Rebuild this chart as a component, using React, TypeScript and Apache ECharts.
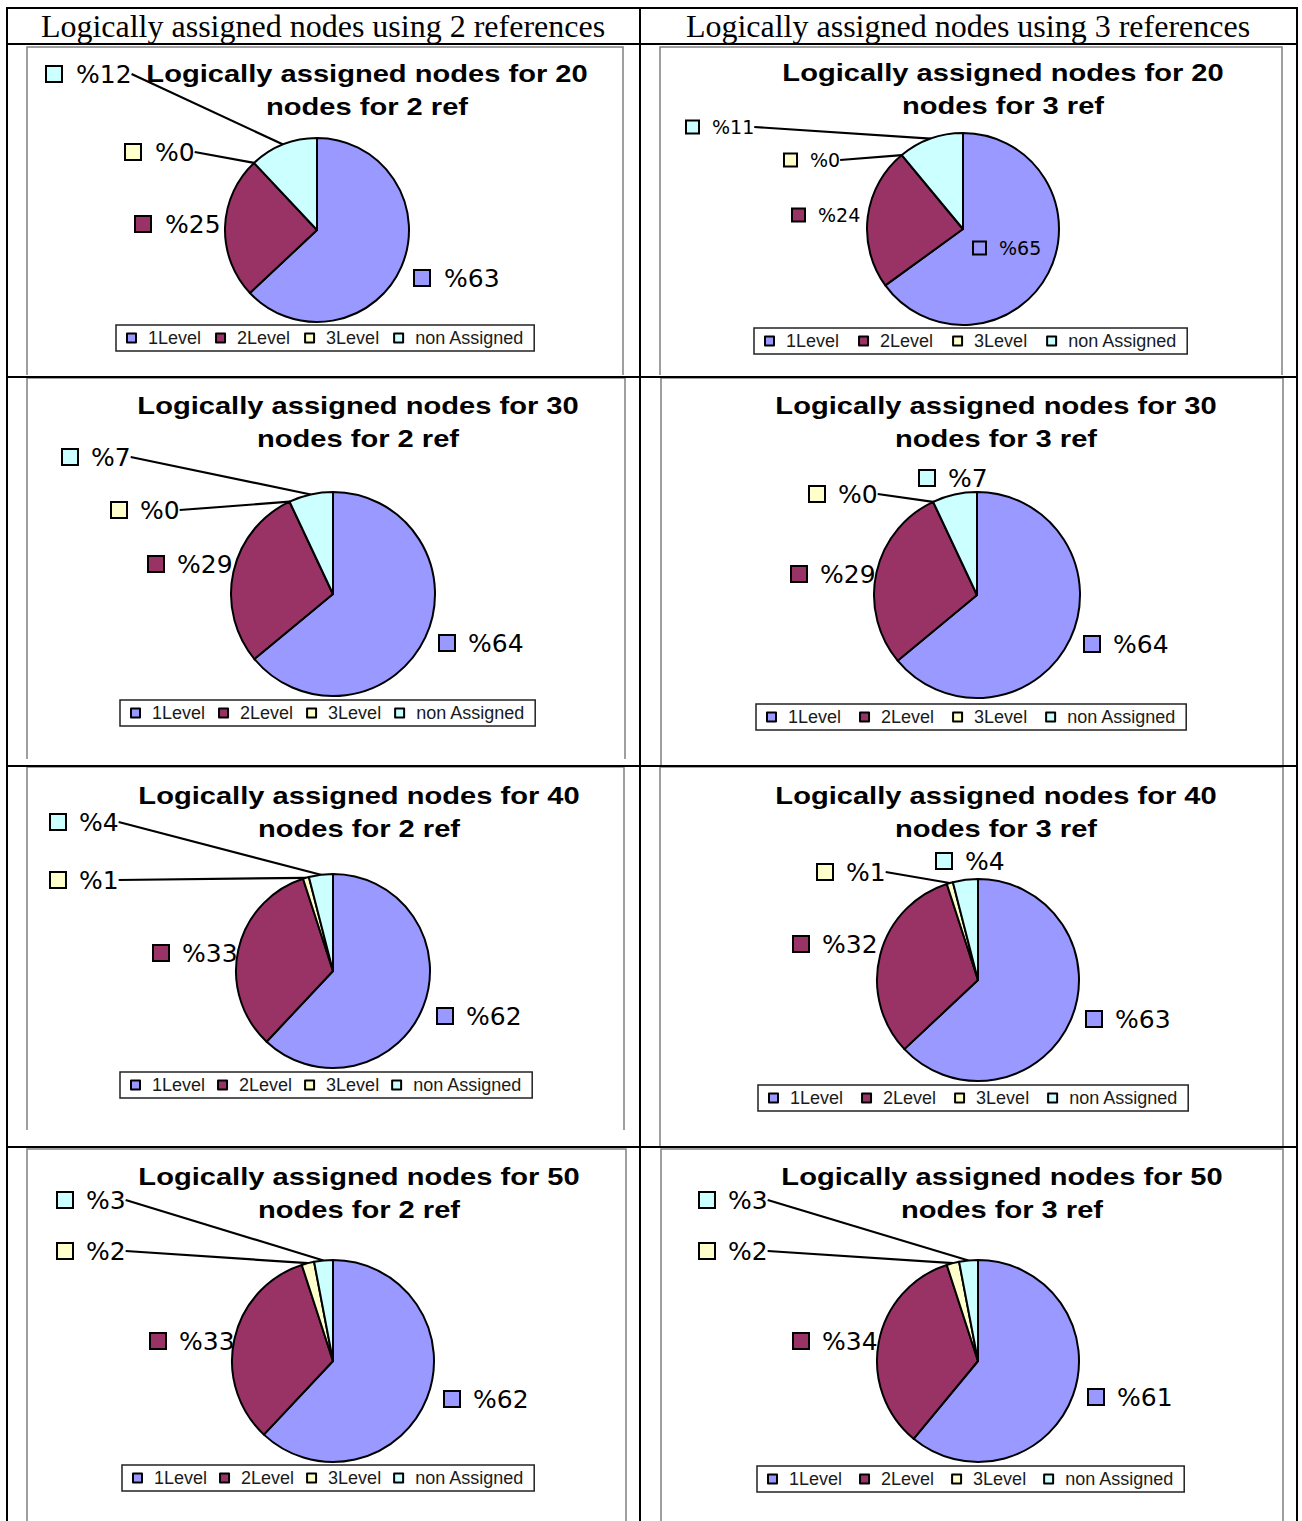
import { useEffect, useRef } from 'react';
import * as echarts from 'echarts';

// Level names shared by every pie and legend
const categories = ['1Level', '2Level', '3Level', 'non Assigned'];
const sliceColors = ['#9999FF', '#993366', '#FFFFCC', '#CCFFFF'];
const columnHeaders = [
  'Logically assigned nodes using 2 references',
  'Logically assigned nodes using 3 references',
];

// Share of nodes (%) per level, one array per network size / reference count
const nodes20ref2 = [63, 25, 0, 12];
const nodes20ref3 = [65, 24, 0, 11];
const nodes30ref2 = [64, 29, 0, 7];
const nodes30ref3 = [64, 29, 0, 7];
const nodes40ref2 = [62, 33, 1, 4];
const nodes40ref3 = [63, 32, 1, 4];
const nodes50ref2 = [62, 33, 2, 3];
const nodes50ref3 = [61, 34, 2, 3];

type Panel = {
  nodes: number;
  refs: number;
  values: number[];
  center: [number, number];
  radius: number;
  titleX: number;
  titleY: number;
  labelAt: [number, number][];
  leaders: boolean[];
  fontSize: number;
  keySize: number;
  keyGap: number;
  legendLeft: number;
  legendTop: number;
  legendGap: number;
};

const panels: Panel[] = [
  {
    nodes: 20, refs: 2, values: nodes20ref2, center: [317, 230], radius: 92,
    titleX: 367, titleY: 74,
    labelAt: [[415, 278], [136, 224], [126, 152], [47, 74]],
    leaders: [false, false, true, true],
    fontSize: 25, keySize: 14, keyGap: 15,
    legendLeft: 116, legendTop: 325, legendGap: 14,
  },
  {
    nodes: 20, refs: 3, values: nodes20ref3, center: [963, 229], radius: 96,
    titleX: 1003, titleY: 73,
    labelAt: [[974, 248], [793, 215], [785, 160], [687, 127]],
    leaders: [false, false, true, true],
    fontSize: 19, keySize: 11, keyGap: 14,
    legendLeft: 754, legendTop: 328, legendGap: 19,
  },
  {
    nodes: 30, refs: 2, values: nodes30ref2, center: [333, 594], radius: 102,
    titleX: 358, titleY: 406,
    labelAt: [[440, 643], [149, 564], [112, 510], [63, 457]],
    leaders: [false, false, true, true],
    fontSize: 25, keySize: 14, keyGap: 14,
    legendLeft: 120, legendTop: 700, legendGap: 13,
  },
  {
    nodes: 30, refs: 3, values: nodes30ref3, center: [977, 595], radius: 103,
    titleX: 996, titleY: 406,
    labelAt: [[1085, 644], [792, 574], [810, 494], [920, 478]],
    leaders: [false, false, true, false],
    fontSize: 25, keySize: 14, keyGap: 14,
    legendLeft: 756, legendTop: 704, legendGap: 18,
  },
  {
    nodes: 40, refs: 2, values: nodes40ref2, center: [333, 971], radius: 97,
    titleX: 359, titleY: 796,
    labelAt: [[438, 1016], [154, 953], [51, 880], [51, 822]],
    leaders: [false, false, true, true],
    fontSize: 25, keySize: 14, keyGap: 14,
    legendLeft: 120, legendTop: 1072, legendGap: 12,
  },
  {
    nodes: 40, refs: 3, values: nodes40ref3, center: [978, 980], radius: 101,
    titleX: 996, titleY: 796,
    labelAt: [[1087, 1019], [794, 944], [818, 872], [937, 861]],
    leaders: [false, false, true, false],
    fontSize: 25, keySize: 14, keyGap: 14,
    legendLeft: 758, legendTop: 1085, legendGap: 18,
  },
  {
    nodes: 50, refs: 2, values: nodes50ref2, center: [333, 1361], radius: 101,
    titleX: 359, titleY: 1177,
    labelAt: [[445, 1399], [151, 1341], [58, 1251], [58, 1200]],
    leaders: [false, false, true, true],
    fontSize: 25, keySize: 14, keyGap: 14,
    legendLeft: 122, legendTop: 1465, legendGap: 12,
  },
  {
    nodes: 50, refs: 3, values: nodes50ref3, center: [978, 1361], radius: 101,
    titleX: 1002, titleY: 1177,
    labelAt: [[1089, 1397], [794, 1341], [700, 1251], [700, 1200]],
    leaders: [false, false, true, true],
    fontSize: 25, keySize: 14, keyGap: 14,
    legendLeft: 757, legendTop: 1466, legendGap: 17,
  },
];

// Table grid: [x1, y1, x2, y2]
const tableLines: [number, number, number, number][] = [
  [6, 8, 1298, 8],
  [6, 44, 1298, 44],
  [6, 377, 1298, 377],
  [6, 766, 1298, 766],
  [6, 1147, 1298, 1147],
  [7, 8, 7, 1521],
  [640, 8, 640, 1521],
  [1297, 8, 1297, 1521],
];

// Chart-area frames inside each cell: [left, right, top, bottom]
const frames: [number, number, number, number][] = [
  [27, 623, 47, 375],
  [660, 1282, 47, 375],
  [27, 625, 378, 759],
  [661, 1283, 378, 765],
  [27, 624, 767, 1130],
  [660, 1283, 767, 1146],
  [27, 626, 1149, 1521],
  [661, 1283, 1149, 1521],
];

function buildOption() {
  const series = panels.map((p) => {
    const rich: Record<string, any> = {
      t: {
        fontFamily: 'DejaVu Sans',
        fontSize: p.fontSize,
        color: '#000',
        padding: [0, 0, 0, p.keyGap],
        verticalAlign: 'middle',
      },
    };
    sliceColors.forEach((c, i) => {
      rich['k' + i] = {
        width: p.keySize,
        height: p.keySize,
        backgroundColor: c,
        borderColor: '#000',
        borderWidth: 2,
        verticalAlign: 'middle',
      };
    });
    return {
      type: 'pie',
      center: p.center,
      radius: p.radius,
      startAngle: 90,
      clockwise: true,
      avoidLabelOverlap: false,
      silent: true,
      emphasis: { disabled: true },
      itemStyle: { borderColor: '#000', borderWidth: 2 },
      data: p.values.map((v, i) => ({
        value: v,
        name: categories[i],
        itemStyle: { color: sliceColors[i] },
        labelLine: { show: p.leaders[i] },
      })),
      label: {
        show: true,
        position: 'outside',
        formatter: (params: any) => `{k${params.dataIndex}| }{t|%${params.value}}`,
        rich,
      },
      labelLine: {
        show: true,
        length: 6,
        length2: 0,
        lineStyle: { color: '#000', width: 2.2 },
      },
      labelLayout: (params: any) => {
        const pos = p.labelAt[params.dataIndex];
        return { x: pos[0], y: pos[1], align: 'left', verticalAlign: 'middle' };
      },
    };
  });

  const legend = panels.map((p) => ({
    data: categories,
    left: p.legendLeft,
    top: p.legendTop,
    orient: 'horizontal',
    icon: 'rect',
    itemWidth: 9,
    itemHeight: 9,
    itemGap: p.legendGap,
    padding: [4, 10],
    borderColor: '#222',
    borderWidth: 1.5,
    selectedMode: false,
    itemStyle: { borderColor: '#000', borderWidth: 2 },
    textStyle: { fontFamily: 'Liberation Sans', fontSize: 18, color: '#1a1a1a', padding: [0, 0, 0, 7] },
  }));

  const graphic: any[] = [];
  frames.forEach(([l, r, t, b]) => {
    graphic.push({
      type: 'polyline',
      silent: true,
      shape: { points: [[l, b], [l, t], [r, t], [r, b]] },
      style: { stroke: '#808080', lineWidth: 1.5, fill: null },
    });
  });
  tableLines.forEach(([x1, y1, x2, y2]) => {
    graphic.push({
      type: 'line',
      silent: true,
      shape: { x1, y1, x2, y2 },
      style: { stroke: '#000', lineWidth: 2 },
    });
  });
  columnHeaders.forEach((text, i) => {
    graphic.push({
      type: 'text',
      silent: true,
      x: i === 0 ? 323 : 968,
      y: 25.5,
      style: {
        text,
        fontFamily: 'Liberation Serif',
        fontSize: 32,
        fill: '#000',
        align: 'center',
        textAlign: 'center',
        verticalAlign: 'middle',
        textVerticalAlign: 'middle',
      },
    });
  });
  panels.forEach((p) => {
    const lines = [`Logically assigned nodes for ${p.nodes}`, `nodes for ${p.refs} ref`];
    lines.forEach((text, j) => {
      graphic.push({
        type: 'text',
        silent: true,
        x: p.titleX,
        y: p.titleY + j * 33,
        scaleX: 1.265,
        style: {
          text,
          fontFamily: 'Liberation Sans',
          fontWeight: 'bold',
          fontSize: 23,
          fill: '#000',
          align: 'center',
          textAlign: 'center',
          verticalAlign: 'middle',
          textVerticalAlign: 'middle',
        },
      });
    });
  });

  return {
    animation: false,
    backgroundColor: '#fff',
    legend,
    series,
    graphic,
  };
}

export default function App() {
  const ref = useRef<HTMLDivElement>(null);
  useEffect(() => {
    const chart = echarts.init(ref.current!, null, { renderer: 'svg' });
    chart.setOption(buildOption() as any);
    return () => chart.dispose();
  }, []);
  return (
    <div
      ref={ref}
      style={{ position: 'absolute', left: 0, top: 0, width: 1302, height: 1521, background: '#fff' }}
    />
  );
}
